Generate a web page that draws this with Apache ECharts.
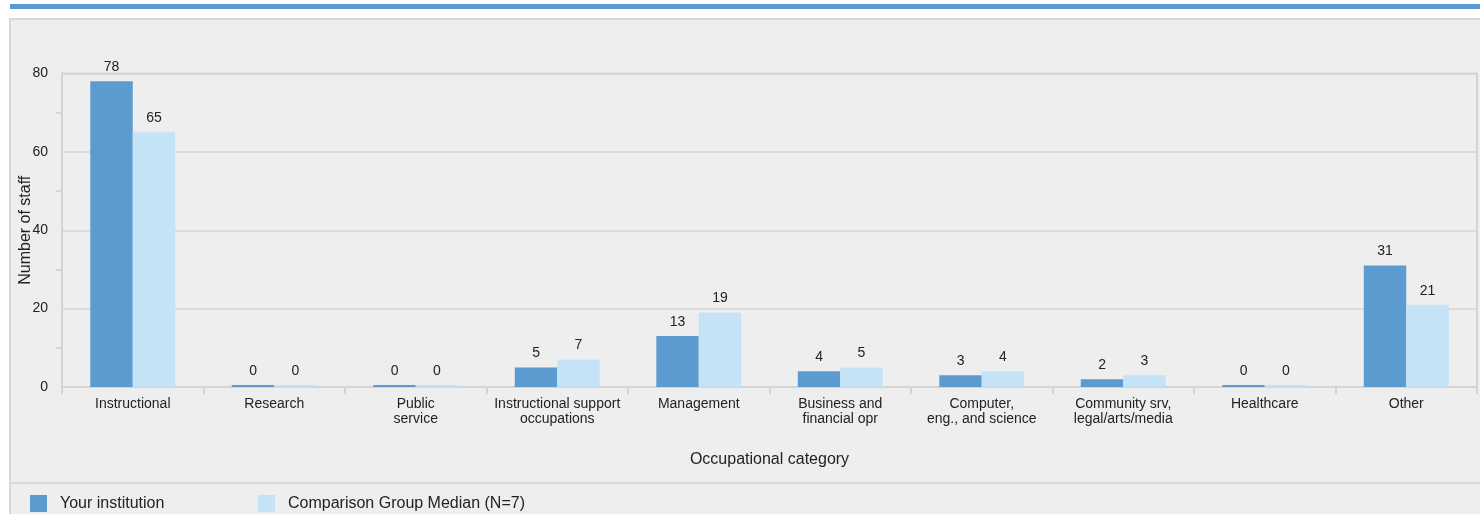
<!DOCTYPE html>
<html>
<head>
<meta charset="utf-8">
<script src="https://cdn.jsdelivr.net/npm/echarts@6/dist/echarts.min.js"></script>
<style>
html,body{margin:0;padding:0;background:#ffffff;}
#chart{width:1480px;height:514px;}
</style>
</head>
<body>
<div id="chart"></div>
<script>
const categories = ['Instructional', 'Research', 'Public\nservice', 'Instructional support\noccupations', 'Management', 'Business and\nfinancial opr', 'Computer,\neng., and science', 'Community srv,\nlegal/arts/media', 'Healthcare', 'Other'];
const yourInstitution = [78, 0, 0, 5, 13, 4, 3, 2, 0, 31];
const comparisonMedian = [65, 0, 0, 7, 19, 5, 4, 3, 0, 21];
const seriesNames = ['Your institution', 'Comparison Group Median (N=7)'];
const yTicks = { min: 0, max: 80, interval: 20 };

const FONT = '"Liberation Sans", Arial, sans-serif';
const TXT = '#222222';
const LINE = '#d4d4d4';

const chart = echarts.init(document.getElementById('chart'), null, { renderer: 'canvas' });

const labelOpt = { show: true, position: 'top', distance: 7, color: TXT, fontSize: 14, fontFamily: FONT };

chart.setOption({
  animation: false,
  backgroundColor: '#ffffff',
  graphic: [
    { type: 'rect', z: -10, shape: { x: 10, y: 4, width: 1470, height: 5 }, style: { fill: '#5b9bd1' } },
    { type: 'rect', z: -10, shape: { x: 10, y: 19, width: 1475, height: 500 }, style: { fill: '#eeeeee', stroke: '#d8d8d8', lineWidth: 2 } },
    { type: 'line', z: -9, shape: { x1: 10, y1: 483, x2: 1480, y2: 483 }, style: { stroke: '#d8d8d8', lineWidth: 2 } }
  ],
  grid: {
    left: 62, right: 3, top: 73.5, bottom: 127,
    show: true, borderColor: LINE, borderWidth: 2, backgroundColor: 'transparent'
  },
  legend: [
    {
      data: [seriesNames[0]], left: 30, top: 495, padding: 0, itemWidth: 17, itemHeight: 17, itemGap: 0,
      icon: 'rect', textStyle: { color: TXT, fontSize: 16, fontFamily: FONT, padding: [1, 0, 0, 8] }
    },
    {
      data: [seriesNames[1]], left: 258, top: 495, padding: 0, itemWidth: 17, itemHeight: 17, itemGap: 0,
      icon: 'rect', textStyle: { color: TXT, fontSize: 16, fontFamily: FONT, padding: [1, 0, 0, 8] }
    }
  ],
  xAxis: {
    type: 'category',
    data: categories,
    name: 'Occupational category',
    nameLocation: 'middle',
    nameGap: 65,
    nameMoveOverlap: false,
    nameTextStyle: { color: TXT, fontSize: 16, fontFamily: FONT },
    axisLine: { show: true, lineStyle: { color: LINE, width: 2 } },
    axisTick: { show: true, length: 7, lineStyle: { color: LINE, width: 2 } },
    axisLabel: { color: TXT, fontSize: 14, fontFamily: FONT, margin: 10, lineHeight: 15, interval: 0 },
    splitLine: { show: false }
  },
  yAxis: {
    type: 'value',
    min: yTicks.min, max: yTicks.max, interval: yTicks.interval,
    name: 'Number of staff',
    nameLocation: 'middle',
    nameGap: 28,
    nameMoveOverlap: false,
    nameRotate: 90,
    nameTextStyle: { color: TXT, fontSize: 16, fontFamily: FONT },
    axisLine: { show: true, lineStyle: { color: LINE, width: 2 } },
    axisTick: { show: false },
    minorTick: { show: true, splitNumber: 2, length: 6, lineStyle: { color: LINE, width: 2 } },
    axisLabel: { color: TXT, fontSize: 14, fontFamily: FONT, margin: 14, padding: [4, 0, 0, 0] },
    splitLine: { show: true, lineStyle: { color: LINE, width: 1.5 } }
  },
  series: [
    {
      name: seriesNames[0], type: 'bar', data: yourInstitution,
      itemStyle: { color: '#5b9bd0' }, barGap: '0%', barCategoryGap: '40%', barMinHeight: 2,
      label: labelOpt
    },
    {
      name: seriesNames[1], type: 'bar', data: comparisonMedian,
      itemStyle: { color: '#c5e3f6' }, barGap: '0%', barCategoryGap: '40%', barMinHeight: 2,
      label: labelOpt
    }
  ]
});
</script>
</body>
</html>
